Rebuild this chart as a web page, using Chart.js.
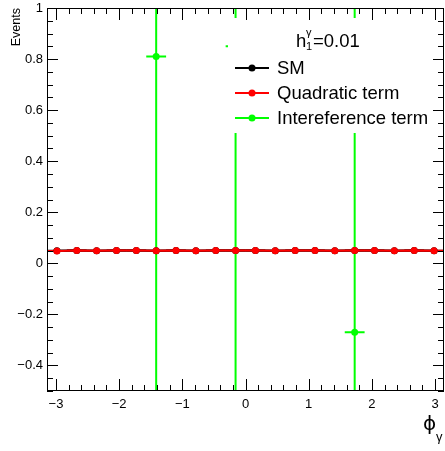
<!DOCTYPE html>
<html>
<head>
<meta charset="utf-8">
<script src="https://cdn.jsdelivr.net/npm/chart.js@4/dist/chart.umd.min.js"></script>
<style>
  body { margin: 0; background: #fff; }
  canvas { display: block; }
</style>
</head>
<body>
<canvas id="phiChart" width="445" height="451" style="width:445px;height:451px"></canvas>
<script>
// 20 bins in phi_gamma from -pi to pi
const binCenters = [-2.9845, -2.6704, -2.3562, -2.0420, -1.7279, -1.4137, -1.0996, -0.7854, -0.4712, -0.1571,
                    0.1571, 0.4712, 0.7854, 1.0996, 1.4137, 1.7279, 2.0420, 2.3562, 2.6704, 2.9845];
const binHalfWidth = 0.1571;

const smValues = [0.049, 0.050, 0.049, 0.050, 0.050, 0.049, 0.050, 0.049, 0.050, 0.050,
                  0.050, 0.049, 0.050, 0.050, 0.049, 0.050, 0.050, 0.049, 0.050, 0.049];
const quadValues = [0.048, 0.050, 0.049, 0.050, 0.050, 0.049, 0.050, 0.049, 0.050, 0.050,
                    0.050, 0.049, 0.050, 0.050, 0.049, 0.050, 0.050, 0.049, 0.050, 0.049];
const smErrors = [0.002, 0.002, 0.002, 0.002, 0.002, 0.002, 0.002, 0.002, 0.002, 0.002,
                  0.002, 0.002, 0.002, 0.002, 0.002, 0.002, 0.002, 0.002, 0.002, 0.002];

// interference term: only three filled bins, huge errors
const interfX = [-1.4137, -0.1571, 1.7279];
const interfValues = [0.81, 0.85, -0.27];
const interfErrors = [1.7, 1.8, 1.6];

const xTicks = [-3, -2, -1, 0, 1, 2, 3];
const yTicks = [-0.4, -0.2, 0, 0.2, 0.4, 0.6, 0.8, 1];

const FONT = 'Liberation Sans, Arial, sans-serif';
const GREEN = '#00ff00';

function toPoints(xs, ys, errs) {
  return xs.map((x, i) => ({ x: x, y: ys[i], ex: binHalfWidth, ey: errs[i] }));
}

function fmt(v) {
  return String(v).replace('-', '\u2212');
}

const errorBars = {
  id: 'errorBars',
  beforeDatasetsDraw(chart) {
    const ctx = chart.ctx;
    const xs = chart.scales.x, ys = chart.scales.y;
    const a = chart.chartArea;
    ctx.save();
    ctx.beginPath();
    ctx.rect(a.left, a.top, a.right - a.left, a.bottom - a.top);
    ctx.clip();
    chart.data.datasets.forEach(ds => {
      ctx.strokeStyle = ds.borderColor;
      ctx.lineWidth = 2;
      ds.data.forEach(p => {
        const px = xs.getPixelForValue(p.x), py = ys.getPixelForValue(p.y);
        ctx.beginPath();
        ctx.moveTo(xs.getPixelForValue(p.x - p.ex), py);
        ctx.lineTo(xs.getPixelForValue(p.x + p.ex), py);
        ctx.moveTo(px, ys.getPixelForValue(p.y - p.ey));
        ctx.lineTo(px, ys.getPixelForValue(p.y + p.ey));
        ctx.stroke();
      });
    });
    ctx.restore();
  }
};

const rootFrame = {
  id: 'rootFrame',
  afterDraw(chart) {
    const ctx = chart.ctx;
    const xs = chart.scales.x, ys = chart.scales.y;
    const a = chart.chartArea;
    ctx.save();

    // legend box
    ctx.fillStyle = '#fff';
    ctx.fillRect(228, 18, 210, 115);

    // header h_1^gamma=0.01
    ctx.fillStyle = '#000';
    ctx.textBaseline = 'alphabetic';
    ctx.textAlign = 'left';
    ctx.font = '18.5px ' + FONT;
    ctx.fillText('h', 296, 47);
    ctx.font = '11px ' + FONT;
    ctx.fillText('\u03b3', 306, 36);
    ctx.fillText('1', 306, 50);
    ctx.font = '18.5px ' + FONT;
    ctx.fillText('=0.01', 313, 47);

    const entries = [
      { label: 'SM', color: '#000', y: 68 },
      { label: 'Quadratic term', color: '#ff0000', y: 93 },
      { label: 'Intereference term', color: GREEN, y: 118 }
    ];
    entries.forEach(e => {
      ctx.strokeStyle = e.color;
      ctx.lineWidth = 2;
      ctx.beginPath();
      ctx.moveTo(235, e.y);
      ctx.lineTo(269, e.y);
      ctx.stroke();
      ctx.fillStyle = e.color;
      ctx.beginPath();
      ctx.arc(252, e.y, 3.5, 0, Math.PI * 2);
      ctx.fill();
      ctx.fillStyle = '#000';
      ctx.font = '18.5px ' + FONT;
      ctx.textBaseline = 'middle';
      ctx.fillText(e.label, 277, e.y + 1);
    });

    // frame
    ctx.strokeStyle = '#000';
    ctx.lineWidth = 1;
    ctx.strokeRect(a.left + 0.5, a.top + 0.5, a.right - a.left - 1, a.bottom - a.top - 1);

    // ticks, ROOT style (inside, on all four sides)
    ctx.beginPath();
    for (let v = -3.2; v <= 3.2; v += 0.2) {
      const val = Math.round(v * 10) / 10;
      if (val < xs.min || val > xs.max) continue;
      const major = Math.abs(val - Math.round(val)) < 1e-6;
      const len = major ? 12 : 6;
      const px = Math.round(xs.getPixelForValue(val)) + 0.5;
      ctx.moveTo(px, a.bottom);
      ctx.lineTo(px, a.bottom - len);
      ctx.moveTo(px, a.top);
      ctx.lineTo(px, a.top + len);
    }
    for (let k = -10; k <= 20; k++) {
      const val = k * 0.05;
      const major = k % 4 === 0;
      const len = major ? 11 : 6;
      const py = Math.round(ys.getPixelForValue(val)) + 0.5;
      ctx.moveTo(a.left, py);
      ctx.lineTo(a.left + len, py);
      ctx.moveTo(a.right, py);
      ctx.lineTo(a.right - len, py);
    }
    ctx.stroke();

    // axis titles
    ctx.fillStyle = '#000';
    ctx.save();
    ctx.translate(20, a.top);
    ctx.rotate(-Math.PI / 2);
    ctx.textAlign = 'right';
    ctx.textBaseline = 'alphabetic';
    ctx.font = '12.5px ' + FONT;
    ctx.fillText('Events', 0, 0);
    ctx.restore();

    ctx.textAlign = 'left';
    ctx.textBaseline = 'alphabetic';
    ctx.font = '20px DejaVu Sans, ' + FONT;
    ctx.fillText('\u03d5', 423, 430);
    ctx.font = '13px ' + FONT;
    ctx.fillText('\u03b3', 436, 441);

    ctx.restore();
  }
};

const ctx = document.getElementById('phiChart');
new Chart(ctx, {
  type: 'scatter',
  data: {
    datasets: [
      {
        label: 'SM',
        data: toPoints(binCenters, smValues, smErrors),
        borderColor: '#000',
        backgroundColor: '#000',
        showLine: true,
        borderWidth: 2,
        pointRadius: 3.5,
        pointBorderWidth: 0,
        order: 3
      },
      {
        label: 'Quadratic term',
        data: toPoints(binCenters, quadValues, smErrors),
        borderColor: '#ff0000',
        backgroundColor: '#ff0000',
        showLine: true,
        borderWidth: 2,
        pointRadius: 3.5,
        pointBorderWidth: 0,
        order: 2
      },
      {
        label: 'Intereference term',
        data: toPoints(interfX, interfValues, interfErrors),
        borderColor: GREEN,
        backgroundColor: GREEN,
        showLine: false,
        pointRadius: 3.5,
        pointBorderWidth: 0,
        order: 1
      }
    ]
  },
  options: {
    responsive: false,
    animation: false,
    layout: { autoPadding: false, padding: { top: 8, right: 1, left: 0, bottom: 0 } },
    plugins: { legend: { display: false }, tooltip: { enabled: false } },
    scales: {
      x: {
        type: 'linear',
        min: -Math.PI,
        max: Math.PI,
        afterBuildTicks: s => { s.ticks = xTicks.map(v => ({ value: v })); },
        afterFit: s => { s.height = 60; s.paddingLeft = 0; s.paddingRight = 0; },
        grid: { display: false, drawTicks: false },
        border: { display: false },
        ticks: { padding: 6, color: '#000', font: { family: FONT, size: 13 }, callback: fmt, autoSkip: false, maxRotation: 0 }
      },
      y: {
        type: 'linear',
        min: -0.5,
        max: 1,
        afterBuildTicks: s => { s.ticks = yTicks.map(v => ({ value: v })); },
        afterFit: s => { s.width = 47; s.paddingTop = 0; s.paddingBottom = 0; },
        grid: { display: false, drawTicks: false },
        border: { display: false },
        ticks: { padding: 4, color: '#000', font: { family: FONT, size: 13 }, callback: fmt, autoSkip: false }
      }
    }
  },
  plugins: [errorBars, rootFrame]
});
</script>
</body>
</html>
